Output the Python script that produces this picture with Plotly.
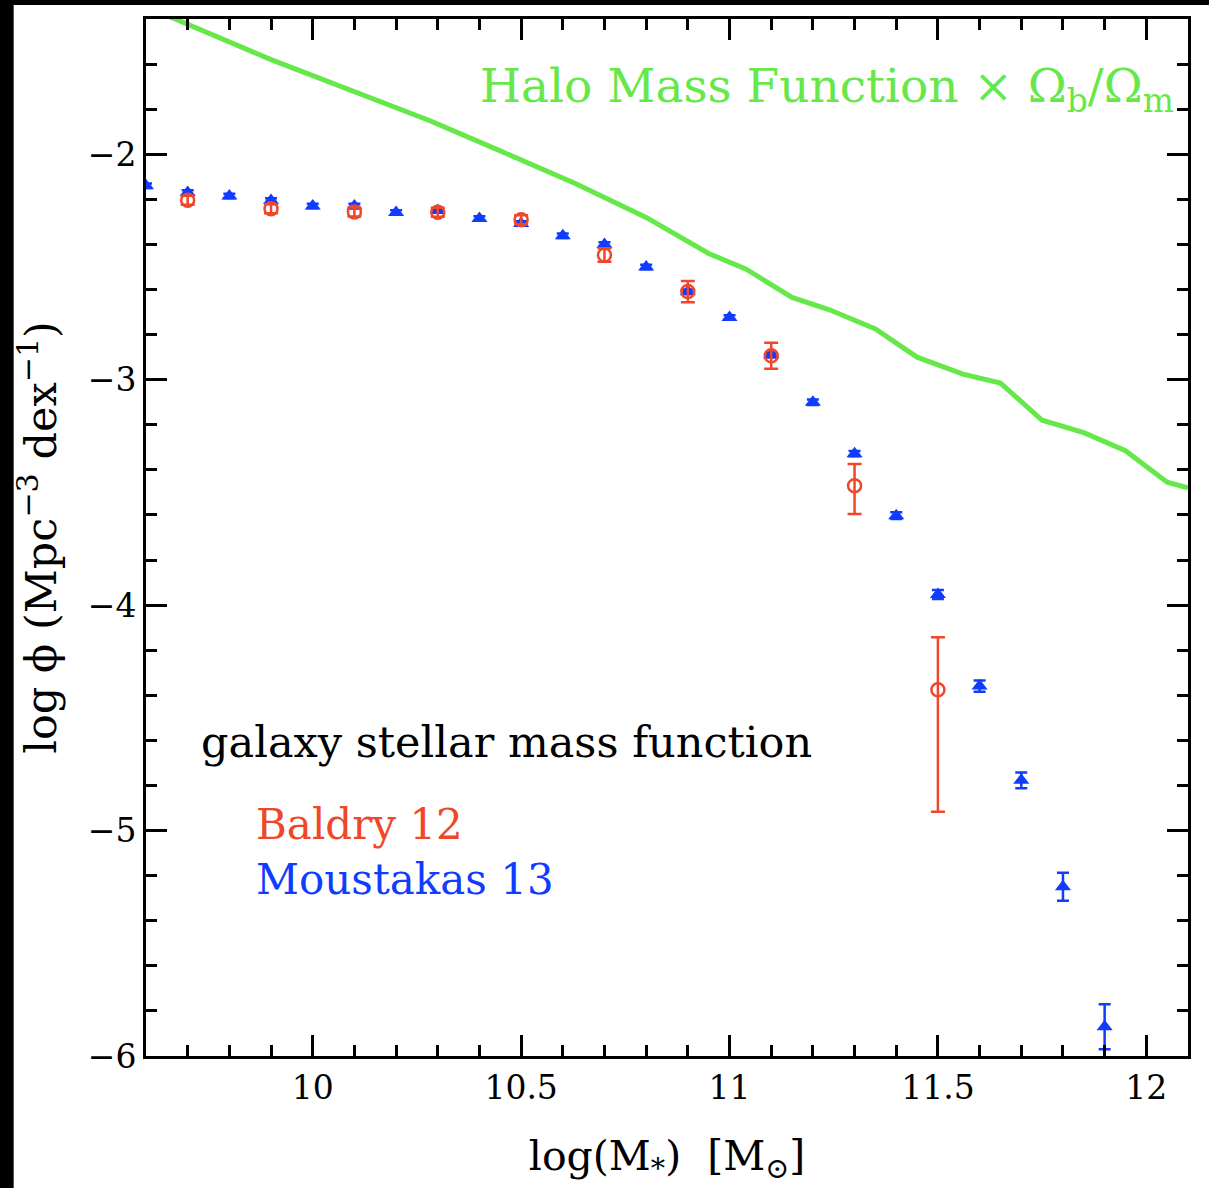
import plotly.graph_objects as go

# Halo mass function scaled by the cosmic baryon fraction
halo_logm = [9.60, 9.67, 9.90, 10.11, 10.28, 10.45, 10.63, 10.80, 10.95, 11.04,
             11.15, 11.24, 11.35, 11.45, 11.56, 11.65, 11.75, 11.85, 11.95, 12.05, 12.10]
halo_logphi = [-1.35, -1.40, -1.58, -1.73, -1.85, -1.985, -2.13, -2.28, -2.44, -2.51,
               -2.635, -2.69, -2.775, -2.90, -2.975, -3.015, -3.18, -3.235, -3.315, -3.455, -3.48]

# Baldry et al. 2012 stellar mass function
baldry_logm = [9.7, 9.9, 10.1, 10.3, 10.5, 10.7, 10.9, 11.1, 11.3, 11.5]
baldry_logphi = [-2.204, -2.242, -2.256, -2.257, -2.29, -2.447, -2.609, -2.894, -3.47, -4.375]
baldry_err_up = [0.02, 0.02, 0.02, 0.02, 0.02, 0.03, 0.047, 0.058, 0.096, 0.233]
baldry_err_dn = [0.02, 0.02, 0.02, 0.02, 0.02, 0.03, 0.047, 0.058, 0.126, 0.542]

# Moustakas et al. 2013 stellar mass function
moustakas_logm = [9.6, 9.7, 9.8, 9.9, 10.0, 10.1, 10.2, 10.3, 10.4, 10.5, 10.6, 10.7,
                  10.8, 10.9, 11.0, 11.1, 11.2, 11.3, 11.4, 11.5, 11.6, 11.7, 11.8, 11.9]
moustakas_logphi = [-2.14, -2.17, -2.185, -2.205, -2.23, -2.23, -2.258, -2.25, -2.285, -2.307,
                    -2.362, -2.40, -2.50, -2.61, -2.724, -2.89, -3.10, -3.328, -3.603, -3.953,
                    -4.359, -4.777, -5.249, -5.87]
moustakas_err = [0.01, 0.01, 0.01, 0.01, 0.01, 0.01, 0.01, 0.01, 0.01, 0.01, 0.01, 0.01,
                 0.01, 0.01, 0.01, 0.01, 0.012, 0.012, 0.015, 0.02, 0.025, 0.035, 0.062, 0.10]

x_ticks = [10, 10.5, 11, 11.5, 12]
x_tick_text = ["10", "10.5", "11", "11.5", "12"]
y_ticks = [-6, -5, -4, -3, -2]

GREEN = "#66e84a"
RED = "#f0472a"
BLUE = "#0f3cff"
FONT = "DejaVu Serif"

fig = go.Figure()

fig.add_trace(go.Scatter(
    x=halo_logm, y=halo_logphi, mode="lines",
    line=dict(color=GREEN, width=5), showlegend=False))

fig.add_trace(go.Scatter(
    x=moustakas_logm, y=moustakas_logphi, mode="markers",
    marker=dict(symbol="triangle-up", size=14, color=BLUE, line=dict(width=0)),
    error_y=dict(type="data", array=moustakas_err, width=6, thickness=2.5, color=BLUE),
    showlegend=False))

fig.add_trace(go.Scatter(
    x=baldry_logm, y=baldry_logphi, mode="markers",
    marker=dict(symbol="circle-open", size=13, color=RED, line=dict(width=2.5, color=RED)),
    error_y=dict(type="data", symmetric=False, array=baldry_err_up, arrayminus=baldry_err_dn,
                 width=7, thickness=2.5, color=RED),
    showlegend=False))

axis_common = dict(
    showline=True, linecolor="black", linewidth=3, mirror="allticks",
    ticks="inside", ticklen=21, tickwidth=3, tickcolor="black",
    showgrid=False, zeroline=False,
    tickfont=dict(family=FONT, size=33, color="black"),
)

fig.update_xaxes(
    range=[9.6, 12.1], tickvals=x_ticks, ticktext=x_tick_text,
    minor=dict(ticks="inside", ticklen=11, tickwidth=3, tickcolor="black", dtick=0.1, tick0=0),
    title=dict(text="log(M<sub>*</sub>)  [M<sub>⊙</sub>]", font=dict(family=FONT, size=41, color="black"),
               standoff=36),
    **axis_common)

fig.update_yaxes(
    range=[-6, -1.4], tickvals=y_ticks,
    minor=dict(ticks="inside", ticklen=11, tickwidth=3, tickcolor="black", dtick=0.2, tick0=0),
    title=dict(text="log ϕ (Mpc<sup>−3</sup> dex<sup>−1</sup>)", font=dict(family=FONT, size=43, color="black"),
               standoff=18),
    **axis_common)

fig.add_annotation(x=12.07, y=-1.71, xanchor="right", yanchor="middle", showarrow=False,
                   text="Halo Mass Function × Ω<sub>b</sub>/Ω<sub>m</sub>",
                   font=dict(family=FONT, size=47, color=GREEN))
fig.add_annotation(x=9.726, y=-4.608, xanchor="left", yanchor="middle", showarrow=False,
                   text="galaxy stellar mass function",
                   font=dict(family=FONT, size=43, color="black"))
fig.add_annotation(x=9.858, y=-4.975, xanchor="left", yanchor="middle", showarrow=False,
                   text="Baldry 12", font=dict(family=FONT, size=42, color=RED))
fig.add_annotation(x=9.858, y=-5.219, xanchor="left", yanchor="middle", showarrow=False,
                   text="Moustakas 13", font=dict(family=FONT, size=42, color=BLUE))

# dark strips framing the page on the left and top
fig.add_shape(type="rect", xref="paper", yref="paper", x0=-0.145, x1=-0.127, y0=-0.2, y1=1.03,
              fillcolor="black", line=dict(width=0), layer="below")
fig.add_shape(type="rect", xref="paper", yref="paper", x0=-0.145, x1=1.03, y0=1.0135, y1=1.03,
              fillcolor="black", line=dict(width=0), layer="below")

fig.update_layout(
    width=1209, height=1188,
    margin=dict(l=146, r=21, t=19, b=132, autoexpand=False),
    paper_bgcolor="white", plot_bgcolor="white",
)

fig.write_html("out.html")
